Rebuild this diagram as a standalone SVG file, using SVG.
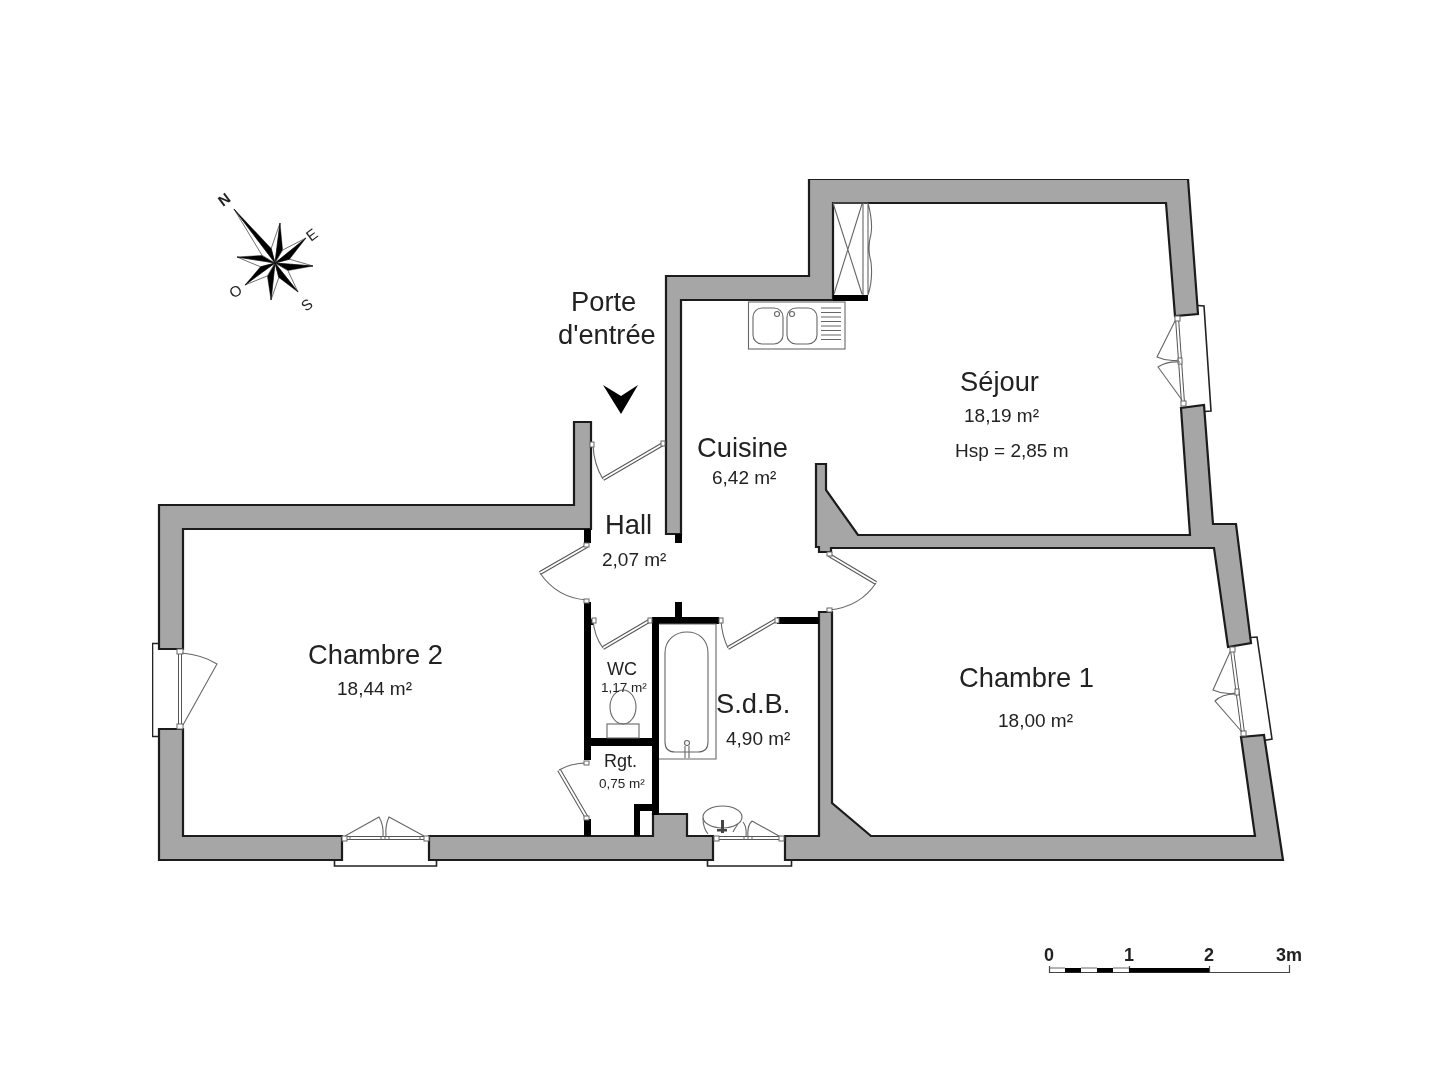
<svg xmlns="http://www.w3.org/2000/svg" width="1440" height="1080" viewBox="0 0 1440 1080">
<style>
text{font-family:"Liberation Sans",Arial,sans-serif;fill:#222}
.big{font-size:27.300px}.mid{font-size:19px}.sm{font-size:13.500px}.room{font-size:18px}
.wall{fill:#a6a6a6;stroke:#1a1a1a;stroke-width:2.200;stroke-linejoin:miter}
.blk{fill:#000}
.thin{fill:none;stroke:#666;stroke-width:1.100}
.frame{fill:#fff;stroke:#222;stroke-width:1.600}
.rail{fill:none;stroke:#555;stroke-width:4}
.railw{fill:none;stroke:#fff;stroke-width:2}
.hinge{fill:#fff;stroke:#666;stroke-width:1}
.b{fill:#000;stroke:#000;stroke-width:.4}
.w{fill:#fff;stroke:#333;stroke-width:.7}
.dir{font-size:15px}
</style>
<defs><filter id="soft" x="0" y="0" width="100%" height="100%"><feGaussianBlur stdDeviation="0.400"/></filter></defs>
<rect width="1440" height="1080" fill="#fff"/>
<g filter="url(#soft)">
<g id="frames">
<path class="frame" d="M159,643.500H152.500V736.500H159"/>
<path class="frame" d="M341,860H334.500V866H436.500V860H429"/>
<path class="frame" d="M713,860H707.500V866H791.500V860H785"/>
<path class="frame" d="M1198,305.500 1204,306 1211,411 1204,411.500"/>
<path class="frame" d="M1251,637.500 1257,637 1272,739 1264,740.500"/>
</g>
<g id="walls">
<polygon class="wall" points="666,276 809,276 809,179 1188,179 1198,314 1175,316 1166,203 833,203 833,300 681,300 681,534 666,534"/>
<polygon class="wall" points="816,464 826,464 826,490 858,535 1190,535 1181,408 1204,405 1213,524 1236,524 1251,643 1228,647 1214,548 831,548 831,552 819,552 819,547 816,547"/>
<polygon class="wall" points="1241,737 1264,735 1283,860 785,860 785,836 819,836 819,612 832,612 832,803 871,836 1255,836"/>
<polygon class="wall" points="159,505 574,505 574,422 591,422 591,529 183,529 183,649 159,649"/>
<polygon class="wall" points="159,729 183,729 183,836 342,836 342,860 159,860"/>
<polygon class="wall" points="429,836 653,836 653,814 687,814 687,836 713,836 713,860 429,860"/>
</g>
<g id="partitions" class="blk">
<rect x="675" y="534" width="7" height="9"/>
<rect x="584" y="529" width="7" height="14"/>
<rect x="584" y="602" width="7" height="158"/>
<rect x="591" y="619" width="3" height="6"/>
<rect x="584" y="819" width="7" height="17"/>
<rect x="591" y="738" width="62" height="8"/>
<rect x="652" y="617" width="7" height="198"/>
<rect x="652" y="617" width="67" height="7"/>
<rect x="675" y="602" width="7" height="15"/>
<rect x="777" y="617" width="42" height="7"/>
<rect x="634" y="804" width="6" height="32"/>
<rect x="634" y="804" width="19" height="7"/>
<rect x="833" y="295" width="35" height="6"/>
</g>
<g id="doors">
<g id="door-entree"><path class="rail" d="M663,444 603,479"/><path class="railw" d="M663,444 603,479"/><path class="thin" d="M603,479Q594,465 593,445"/><rect class="hinge" x="590" y="442" width="4" height="5"/><rect class="hinge" x="661" y="441" width="4" height="5"/></g>
<g id="door-chambre2"><path class="rail" d="M587,546 540,573"/><path class="railw" d="M587,546 540,573"/><path class="thin" d="M540,573Q557,598 587,600"/><rect class="hinge" x="584" y="543" width="5" height="4"/><rect class="hinge" x="584" y="599" width="5" height="4"/></g>
<g id="door-wc"><path class="rail" d="M649,621 603,648"/><path class="railw" d="M649,621 603,648"/><path class="thin" d="M603,648Q594,636 593,619"/><rect class="hinge" x="592" y="618" width="4" height="5"/><rect class="hinge" x="648" y="618" width="4" height="5"/></g>
<g id="door-sdb"><path class="rail" d="M776,620 728,648"/><path class="railw" d="M776,620 728,648"/><path class="thin" d="M728,648Q722,636 721,620"/><rect class="hinge" x="719" y="618" width="4" height="5"/><rect class="hinge" x="775" y="618" width="4" height="5"/></g>
<g id="door-chambre1"><path class="rail" d="M829,555 876,583"/><path class="railw" d="M829,555 876,583"/><path class="thin" d="M876,583Q860,607 829,610"/><rect class="hinge" x="827" y="552" width="5" height="4"/><rect class="hinge" x="827" y="608" width="5" height="4"/></g>
<g id="door-rgt"><path class="rail" d="M587,818 559,770"/><path class="railw" d="M587,818 559,770"/><path class="thin" d="M559,770Q571,763 587,763"/><rect class="hinge" x="584" y="761" width="5" height="4"/><rect class="hinge" x="584" y="816" width="5" height="4"/></g>
</g>
<g id="windows">
<g id="win-chambre2"><path class="rail" d="M180,653V725"/><path class="railw" d="M180,653V725"/><rect class="hinge" x="177" y="649" width="6" height="5"/><rect class="hinge" x="177" y="724" width="6" height="5"/><path class="thin" d="M182,653Q203,655 217,664L183,725"/></g>
<g id="win-chambre2b"><path class="rail" d="M345,838H426"/><path class="railw" d="M345,838H426"/><rect class="hinge" x="342" y="836" width="5" height="5"/><rect class="hinge" x="424" y="836" width="5" height="5"/><path class="hinge" d="M350,836v4M381,836v4M385,836v4M389,836v4M420,836v4"/><path class="thin" d="M345,836 379,817Q384,825 383,837M424,836 389,817Q385,825 386,837"/></g>
<g id="win-sdb"><path class="rail" d="M715,838H783"/><path class="railw" d="M715,838H783"/><rect class="hinge" x="714" y="836" width="5" height="5"/><rect class="hinge" x="779" y="836" width="5" height="5"/><path class="hinge" d="M744,836v4M748,836v4M752,836v4"/><path class="thin" d="M752,821 779,836M752,821Q747,826 748,836M743,822Q747,827 746,836"/></g>
<g id="win-sejour"><path class="rail" d="M1177,318 1183,403"/><path class="railw" d="M1177,318 1183,403"/><rect class="hinge" x="1175" y="316" width="5" height="5"/><rect class="hinge" x="1181" y="401" width="5" height="5"/><rect class="hinge" x="1178" y="358" width="4" height="6"/><path class="thin" d="M1175,321 1157,357Q1168,362 1179,360M1182,400 1158,367Q1167,361 1180,362"/></g>
<g id="win-chambre1"><path class="rail" d="M1232,650 1243,733"/><path class="railw" d="M1232,650 1243,733"/><rect class="hinge" x="1230" y="647" width="5" height="5"/><rect class="hinge" x="1241" y="731" width="5" height="5"/><rect class="hinge" x="1235" y="689" width="4" height="6"/><path class="thin" d="M1230,652 1213,690Q1224,695 1235,693M1242,732 1215,701Q1222,694 1235,694"/></g>
</g>
<g id="fixtures">
<g id="closet"><path class="thin" d="M833,203H868M833,203 862,294M862,204 834,294M863,203V295M868,203V295M868,203Q873,222 871,234Q867,248 871,262Q873,280 868,295"/></g>
<g id="sink"><rect class="thin" x="748.500" y="302" width="96.500" height="47"/><rect class="thin" x="753" y="308" width="30" height="36" rx="9"/><rect class="thin" x="787" y="308" width="30" height="36" rx="9"/><circle class="thin" cx="777" cy="314" r="2.500"/><circle class="thin" cx="792" cy="314" r="2.500"/><path class="thin" d="M821,308H841M821,312.500H841M821,317H841M821,321.500H841M821,326H841M821,330.500H841M821,335H841M821,339.500H841"/></g>
<g id="bath"><path class="thin" d="M659,624H716V759H659"/><path class="thin" d="M665,653C665,640 675,632 687,632C699,632 708,640 708,653V742Q708,752 698,752H675Q665,752 665,742Z"/><circle class="thin" cx="687" cy="743" r="2.500"/><path class="thin" d="M685,746V758M689,746V758"/></g>
<g id="toilet"><ellipse class="thin" cx="623" cy="707" rx="13" ry="17"/><rect class="thin" x="607" y="724" width="32" height="14"/></g>
<g id="basin"><ellipse class="thin" cx="722.500" cy="817" rx="19.500" ry="11"/><path class="thin" d="M703,818Q703,828 708,834M738,824Q735,828 733,832"/><rect x="721" y="820" width="3" height="13" fill="#444"/><rect x="717" y="829" width="10" height="2.500" fill="#444"/></g>
</g>
<g id="entrance-arrow"><polygon points="603,385 621,396 638,385 621,414" fill="#000"/></g>
<g id="compass">
<polygon class="w" points="275,263 280,223 271.200,248.500"/><polygon class="b" points="275,263 280,223 282.600,250.100"/>
<polygon class="w" points="275,263 313,266 289.500,259.200"/><polygon class="b" points="275,263 313,266 287.900,270.600"/>
<polygon class="w" points="275,263 271,300 278.800,277.500"/><polygon class="b" points="275,263 271,300 267.400,275.900"/>
<polygon class="w" points="275,263 237,257 260.500,266.800"/><polygon class="b" points="275,263 237,257 262.100,255.400"/>
<polygon class="w" points="275,263 234,209 262.100,255.400"/><polygon class="b" points="275,263 234,209 271.200,248.500"/>
<polygon class="w" points="275,263 306,238 282.600,250.100"/><polygon class="b" points="275,263 306,238 289.500,259.200"/>
<polygon class="w" points="275,263 298,292 287.900,270.600"/><polygon class="b" points="275,263 298,292 278.800,277.500"/>
<polygon class="w" points="275,263 245,285 267.400,275.900"/><polygon class="b" points="275,263 245,285 260.500,266.800"/>
<text class="dir" style="font-weight:bold" transform="translate(223,207) rotate(-37)">N</text>
<text class="dir" transform="translate(311,242) rotate(-37)">E</text>
<text class="dir" transform="translate(306,312) rotate(-37)">S</text>
<text class="dir" transform="translate(234,299) rotate(-37)">O</text>
</g>
<g id="labels">
<text class="big" x="308" y="664">Chambre 2</text>
<text class="mid" x="337" y="695">18,44 m²</text>
<text class="big" x="960" y="391">Séjour</text>
<text class="mid" x="964" y="422">18,19 m²</text>
<text class="mid" x="955" y="457">Hsp = 2,85 m</text>
<text class="big" x="697" y="457">Cuisine</text>
<text class="mid" x="712" y="484">6,42 m²</text>
<text class="big" x="605" y="534">Hall</text>
<text class="mid" x="602" y="566">2,07 m²</text>
<text class="big" x="571" y="311">Porte</text>
<text class="big" x="558" y="344">d'entrée</text>
<text class="room" x="607" y="675">WC</text>
<text class="sm" x="601" y="692">1,17 m²</text>
<text class="room" x="604" y="767">Rgt.</text>
<text class="sm" x="599" y="788">0,75 m²</text>
<text class="big" x="716" y="713">S.d.B.</text>
<text class="mid" x="726" y="745">4,90 m²</text>
<text class="big" x="959" y="687">Chambre 1</text>
<text class="mid" x="998" y="727">18,00 m²</text>
</g>
<g id="scale">
<path d="M1049.500,966V972.500H1289.500V965M1129.500,966V972M1209.500,966V972" fill="none" stroke="#444" stroke-width="1.200"/>
<path d="M1049,968H1065M1081,968H1097M1113,968H1129" stroke="#666" stroke-width="1" fill="none"/>
<rect x="1065" y="968" width="16" height="4.500"/>
<rect x="1097" y="968" width="16" height="4.500"/>
<rect x="1129" y="968" width="80" height="4.500"/>
<g style="font-size:18px;font-weight:bold">
<text x="1044" y="961">0</text>
<text x="1124" y="961">1</text>
<text x="1204" y="961">2</text>
<text x="1276" y="961">3m</text>
</g>
</g>
</g>
</svg>
